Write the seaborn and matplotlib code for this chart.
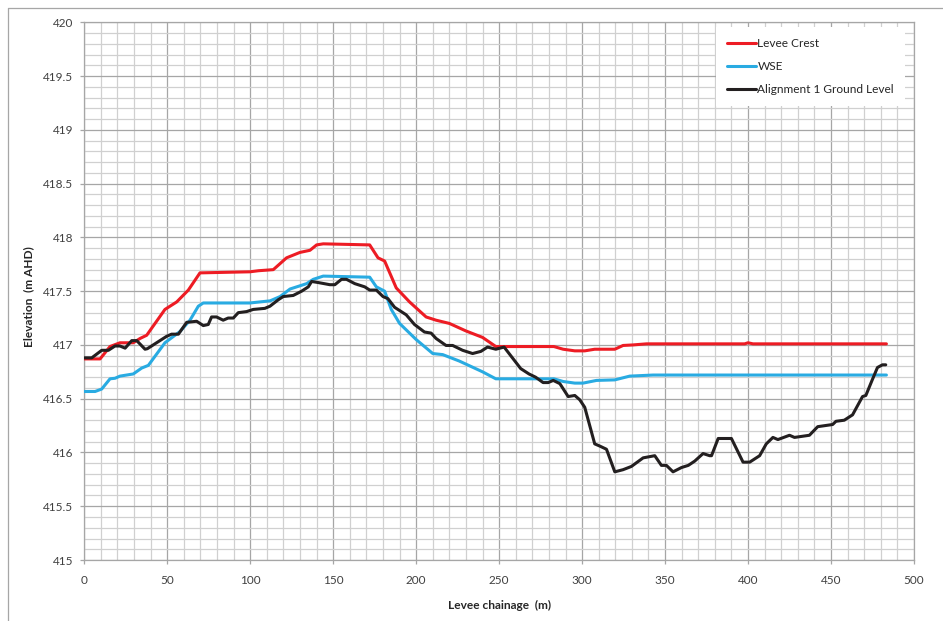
import numpy as np
import pandas as pd
import matplotlib
matplotlib.use("Agg")
import matplotlib.pyplot as plt
from matplotlib.ticker import MultipleLocator, FuncFormatter
from matplotlib.lines import Line2D
import seaborn as sns

# ---- data ----
crest_x = [0, 9.5, 15.5, 21.5, 29.5, 33.6, 37.6, 48.6, 55.7, 62.7, 69.7, 99.8, 105, 113.9,
           121.9, 129.9, 136, 140, 144, 172, 177, 181, 188, 196, 206, 212, 220, 230, 240, 248,
           262, 283, 288.6, 295.6, 301.6, 307.6, 319.7, 324.7, 330.7, 338.8, 398, 400, 403, 483.4]
crest_y = [416.87, 416.87, 416.985, 417.02, 417.02, 417.06, 417.09, 417.33, 417.40, 417.51,
           417.67, 417.68, 417.69, 417.70, 417.81, 417.86, 417.88, 417.93, 417.94, 417.93,
           417.81, 417.78, 417.53, 417.40, 417.26, 417.23, 417.20, 417.13, 417.07, 416.985,
           416.985, 416.985, 416.96, 416.945, 416.945, 416.96, 416.96, 416.995, 417.0, 417.01,
           417.01, 417.02, 417.01, 417.01]

wse_x = [0, 6.5, 10.5, 15.5, 18.5, 21.5, 29.5, 34.6, 38.6, 48.6, 57.7, 63.7, 68.7, 71.7, 99.8,
         112, 118, 124, 134, 138, 144, 172, 176, 181, 185, 190, 200, 210, 216, 226, 240, 248,
         283, 288.6, 295.6, 300.6, 308.7, 319.7, 328.7, 342.8, 483.4]
wse_y = [416.567, 416.567, 416.59, 416.685, 416.69, 416.71, 416.73, 416.785, 416.81, 417.02,
         417.125, 417.23, 417.36, 417.39, 417.39, 417.41, 417.45, 417.52, 417.57, 417.61,
         417.64, 417.63, 417.54, 417.50, 417.33, 417.20, 417.05, 416.92, 416.91, 416.85,
         416.75, 416.685, 416.685, 416.66, 416.645, 416.645, 416.67, 416.675, 416.71, 416.72,
         416.72]

ground_x = [0, 4.5, 10.5, 14.5, 18.5, 21.5, 24.6, 28.6, 31.6, 36.6, 38, 49.6, 52.6, 56.7, 61.7,
            67.7, 71.7, 74.7, 76.7, 79.7, 83.7, 86.7, 89.8, 92.8, 97.8, 101.8, 108.8, 111.9,
            116.9, 119.9, 125.9, 131, 135, 137, 141, 148, 151, 155, 158, 163, 169, 172, 176,
            180, 183, 187, 194, 199, 205, 209, 212, 218, 222, 228, 234, 239, 243, 248, 253,
            258, 263, 268, 272, 276.5, 279.6, 282.6, 286.6, 291.6, 295.6, 298.6, 301.6, 307.6,
            310.6, 314.7, 319.7, 324.7, 329.7, 336.8, 343.8, 347.8, 350.8, 354.8, 359.9, 364,
            367.9, 372.9, 376.9, 378, 382, 390, 397, 401, 407, 411, 415, 418, 425, 428, 437,
            442, 451, 453, 458, 463, 469, 471, 475, 478, 481, 483]
ground_y = [416.88, 416.88, 416.95, 416.95, 416.99, 416.99, 416.97, 417.04, 417.04, 416.96,
            416.965, 417.08, 417.10, 417.10, 417.21, 417.22, 417.18, 417.19, 417.26, 417.26,
            417.23, 417.25, 417.25, 417.30, 417.31, 417.33, 417.34, 417.36, 417.42, 417.45,
            417.46, 417.50, 417.54, 417.59, 417.58, 417.56, 417.56, 417.61, 417.61, 417.57,
            417.54, 417.51, 417.51, 417.45, 417.43, 417.35, 417.28, 417.19, 417.12, 417.11,
            417.06, 416.995, 416.995, 416.95, 416.92, 416.94, 416.98, 416.96, 416.98, 416.88,
            416.78, 416.73, 416.70, 416.65, 416.65, 416.67, 416.64, 416.52, 416.53, 416.49,
            416.42, 416.08, 416.06, 416.03, 415.82, 415.84, 415.87, 415.95, 415.97, 415.88,
            415.88, 415.82, 415.86, 415.88, 415.92, 415.99, 415.97, 415.97, 416.13, 416.13,
            415.91, 415.91, 415.97, 416.08, 416.14, 416.12, 416.16, 416.14, 416.16, 416.24,
            416.26, 416.29, 416.30, 416.35, 416.52, 416.53, 416.68, 416.79, 416.815, 416.815]

series_names = ["Levee Crest", "WSE", "Alignment 1 Ground Level"]
series_colors = ["#ED1C24", "#29ABE2", "#231F20"]

# ---- plot ----
sns.set_style("white")
plt.rcParams['font.family'] = ['Lato', 'DejaVu Sans']

fig = plt.figure(figsize=(9.43, 6.21), dpi=100)
ax = fig.add_axes([0.0894, 0.0982, 0.8798, 0.8659])

for (xs, ys), name, col in zip([(crest_x, crest_y), (wse_x, wse_y), (ground_x, ground_y)],
                               series_names, series_colors):
    df = pd.DataFrame({"x": xs, "y": ys})
    sns.lineplot(data=df, x="x", y="y", ax=ax, color=col, linewidth=2.2, label=name,
                 sort=False, estimator=None, zorder=3)

ax.set_xlim(0, 500)
ax.set_ylim(415, 420)
ax.xaxis.set_major_locator(MultipleLocator(50))
ax.xaxis.set_minor_locator(MultipleLocator(10))
ax.yaxis.set_major_locator(MultipleLocator(0.5))
ax.yaxis.set_minor_locator(MultipleLocator(0.1))
ax.yaxis.set_major_formatter(FuncFormatter(lambda v, p: f"{v:g}"))
ax.grid(which="major", color="#a6a6a6", linewidth=0.9, zorder=0)
ax.grid(which="minor", color="#d0d0d0", linewidth=0.9, zorder=0)
ax.set_axisbelow(True)
for s in ax.spines.values():
    s.set_color("#a6a6a6")
    s.set_linewidth(0.9)
ax.tick_params(axis="both", which="major", length=3, width=0.9, color="#a6a6a6",
               labelsize=8.5, labelcolor="#404040", bottom=True, left=True)
ax.tick_params(axis="x", which="major", pad=8)
ax.tick_params(axis="y", which="major", pad=5)
ax.tick_params(which="minor", length=0)

ax.set_xlabel("Levee chainage  (m)", fontsize=8.6, fontweight="bold", color="#262626", labelpad=10)
ax.set_ylabel("Elevation  (m AHD)", fontsize=8.6, fontweight="bold", color="#262626", labelpad=9)
ax.yaxis.set_label_coords(-0.061, 0.49)

leg = ax.legend(loc="upper right", bbox_to_anchor=(0.989, 0.991), fontsize=8.6,
                frameon=True, fancybox=False, framealpha=1, edgecolor="none",
                facecolor="white", handlelength=2.4, handletextpad=0.15,
                labelspacing=1.0, borderpad=0.9, borderaxespad=0)
for t in leg.get_texts():
    t.set_color("#262626")

# outer chart frame (top and left edges)
fig.add_artist(Line2D([8.3 / 943, 1], [1 - 8.3 / 621, 1 - 8.3 / 621], color="#a6a6a6",
                      linewidth=0.9, transform=fig.transFigure))
fig.add_artist(Line2D([8.3 / 943, 8.3 / 943], [0, 1 - 8.3 / 621], color="#a6a6a6",
                      linewidth=0.9, transform=fig.transFigure))

fig.savefig("out.png", dpi=100)
